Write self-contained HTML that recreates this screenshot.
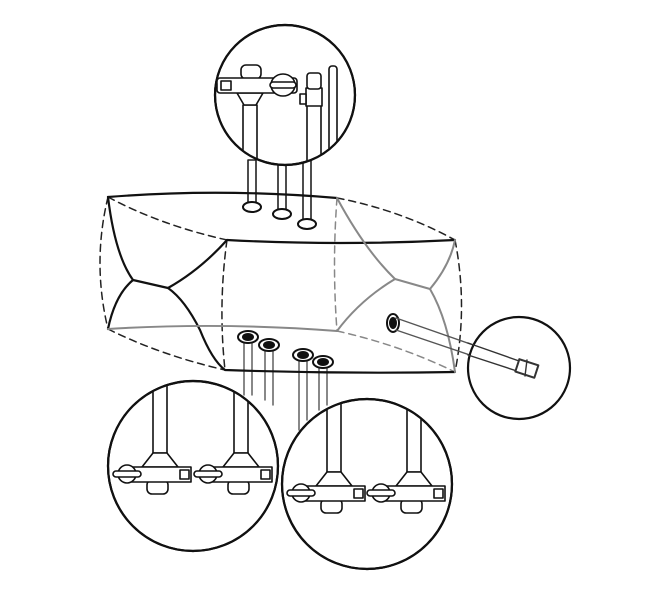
<!DOCTYPE html>
<html><head><meta charset="utf-8"><style>html,body{margin:0;padding:0;background:#fff}svg{display:block}</style></head>
<body>
<svg width="650" height="599" viewBox="0 0 650 599" xmlns="http://www.w3.org/2000/svg" fill="none" stroke-linecap="round" stroke-linejoin="round">
<defs>
<clipPath id="c1"><circle cx="285" cy="95" r="69"/></clipPath>
<clipPath id="c2"><circle cx="193" cy="466" r="84"/></clipPath>
<clipPath id="c3"><circle cx="367" cy="484" r="84"/></clipPath>
<g id="tl" stroke="#111" stroke-width="1.6" fill="#fff">
<rect x="153" y="360" width="14" height="93"/>
<path d="M153 453 L167 453 L178 467 L142 467 Z"/>
<rect x="147" y="480" width="21" height="14" rx="5"/>
<rect x="125" y="467" width="66" height="15"/>
<rect x="180" y="470" width="9" height="9"/>
<ellipse cx="127" cy="474" rx="9" ry="9"/>
<rect x="113" y="471" width="28" height="6" rx="3"/>
</g>
</defs>
<!-- tubes top -->
<g stroke="#222" stroke-width="1.6" fill="#fff">
<rect x="248" y="160" width="8" height="47"/>
<rect x="278" y="160" width="8" height="54"/>
<rect x="303" y="160" width="8" height="64"/>
</g>
<!-- tubes bottom -->
<g stroke="#555" stroke-width="1.4">
<line x1="244" y1="337" x2="244" y2="395"/><line x1="252" y1="337" x2="252" y2="395"/>
<line x1="265" y1="345" x2="265" y2="400"/><line x1="273" y1="345" x2="273" y2="405"/>
<line x1="299" y1="355" x2="299" y2="430"/><line x1="307" y1="355" x2="307" y2="420"/>
<line x1="319" y1="362" x2="319" y2="410"/><line x1="327" y1="362" x2="327" y2="405"/>
</g>
<!-- body dashed -->
<g stroke="#222" stroke-width="1.5" stroke-dasharray="7,5">
<path d="M108 197 Q160 225 227 240"/>
<path d="M108 197 Q92 263 108 329"/>
<path d="M227 240 Q218 305 225 370"/>
<path d="M337 198 Q400 210 455 240"/>
<path d="M455 240 Q468 306 455 372"/>
<path d="M108 329 Q160 355 225 370"/>
</g>
<g stroke="#888" stroke-width="1.5" stroke-dasharray="7,5">
<path d="M337 198 Q332 265 337 331"/>
<path d="M337 331 Q400 345 455 372"/>
</g>
<g stroke="#111" stroke-width="2.2">
<path d="M108 197 Q220 188 337 198"/>
<path d="M227 240 Q340 246 455 240"/>
<path d="M108 197 Q115 255 133 280 L168 288 Q200 270 227 240"/>
<path d="M133 280 Q115 295 108 329"/>
<path d="M168 288 Q185 300 200 330 Q212 360 225 370 Q340 374 455 372"/>
</g>
<g stroke="#888" stroke-width="2">
<path d="M108 329 Q220 322 337 331"/>
<path d="M337 198 Q365 250 395 279 L430 289 Q450 265 455 240"/>
<path d="M395 279 Q360 300 337 331"/>
<path d="M430 289 Q448 320 455 372"/>
</g>
<g stroke="#111" stroke-width="2" fill="#fff">
<ellipse cx="252" cy="207" rx="9" ry="5"/>
<ellipse cx="282" cy="214" rx="9" ry="5"/>
<ellipse cx="307" cy="224" rx="9" ry="5"/>
</g>
<g stroke="#111" stroke-width="2" fill="#fff">
<ellipse cx="248" cy="337" rx="10" ry="6"/><ellipse cx="248" cy="337" rx="5" ry="3" fill="#111"/>
<ellipse cx="269" cy="345" rx="10" ry="6"/><ellipse cx="269" cy="345" rx="5" ry="3" fill="#111"/>
<ellipse cx="303" cy="355" rx="10" ry="6"/><ellipse cx="303" cy="355" rx="5" ry="3" fill="#111"/>
<ellipse cx="323" cy="362" rx="10" ry="6"/><ellipse cx="323" cy="362" rx="5" ry="3" fill="#111"/>
<ellipse cx="393" cy="323" rx="6" ry="9"/><ellipse cx="393" cy="323" rx="3" ry="5" fill="#111"/>
</g>
<g stroke="#555" stroke-width="1.4">
<line x1="396" y1="318" x2="522" y2="362"/>
<line x1="396" y1="330" x2="520" y2="372"/>
</g>
<g stroke="#111" stroke-width="2.2" fill="#fff">
<circle cx="285" cy="95" r="70"/>
<circle cx="193" cy="466" r="85"/>
<circle cx="367" cy="484" r="85"/>
<circle cx="519" cy="368" r="51"/>
</g>
<g stroke="#333" stroke-width="1.4">
<line x1="468" y1="343" x2="522" y2="362"/>
<line x1="468" y1="355" x2="520" y2="372"/>
<rect x="517" y="362" width="20" height="13" transform="rotate(18 527 368)" fill="#fff" stroke-width="2"/>
<line x1="527" y1="360" x2="525" y2="376"/>
</g>
<g stroke="#111" stroke-width="1.6" fill="#fff" clip-path="url(#c1)">
<rect x="243" y="105" width="14" height="70"/>
<path d="M237 93 L263 93 L256 105 L244 105 Z"/>
<rect x="241" y="65" width="20" height="14" rx="5"/>
<rect x="217" y="78" width="80" height="15" rx="3"/>
<rect x="221" y="81" width="10" height="9"/>
<ellipse cx="283" cy="85" rx="12" ry="11"/>
<rect x="270" y="82" width="26" height="6" rx="3"/>
<rect x="307" y="105" width="14" height="70"/>
<rect x="306" y="88" width="16" height="18"/>
<rect x="307" y="73" width="14" height="16" rx="3"/>
<rect x="300" y="94" width="6" height="10"/>
<rect x="329" y="66" width="8" height="96" rx="3"/>
</g>
<g clip-path="url(#c2)">
<use href="#tl"/>
<use href="#tl" transform="translate(81,0)"/>
</g>
<g clip-path="url(#c3)">
<use href="#tl" transform="translate(174,19)"/>
<use href="#tl" transform="translate(254,19)"/>
</g>
<g stroke="#111" stroke-width="2.2" fill="none">
<circle cx="285" cy="95" r="70"/>
<circle cx="193" cy="466" r="85"/>
<circle cx="367" cy="484" r="85"/>
</g>
</svg>
</body></html>
